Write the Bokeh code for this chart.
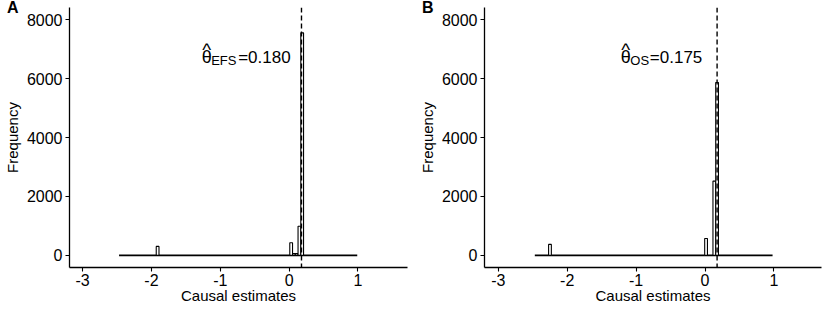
from bokeh.plotting import figure
from bokeh.layouts import row, column
from bokeh.models import Range1d, Span, Label, FixedTicker, Div
from bokeh.embed import file_html
from bokeh.resources import INLINE

# ---- data ----
BIN_W = 0.04
# Panel A (EFS)
a_left = [-1.93, 0.01, 0.05, 0.09, 0.13, 0.17]
a_count = [305, 430, 60, 60, 990, 7550]
a_extent = [-2.47, 0.99]
a_theta = 0.180
a_sub = "EFS"
a_value = "=0.180"
# Panel B (OS)
b_left = [-2.27, -0.005, 0.115, 0.155]
b_count = [373, 576, 2519, 5864]
b_extent = [-2.47, 0.98]
b_theta = 0.175
b_sub = "OS"
b_value = "=0.175"

x_ticks = [-3, -2, -1, 0, 1]
y_ticks = [0, 2000, 4000, 6000, 8000]

FONT = "Liberation Sans"
XR_A = (-3.19, 1.72)
XR_B = (-3.2, 1.69)
YR = (-410, 8410)
FIG_W = 415
FIG_H = 314


def panel(lefts, counts, extent, theta, sub, valtxt, xr, border_left, border_right,
          lab_x, sub_dx, val_dx):
    p = figure(width=FIG_W, height=FIG_H, x_range=Range1d(*xr), y_range=Range1d(*YR),
               output_backend="svg", toolbar_location=None,
               min_border_left=border_left, min_border_right=border_right,
               min_border_top=7, min_border_bottom=47)
    p.outline_line_color = None
    p.xgrid.visible = False
    p.ygrid.visible = False
    p.background_fill_color = "white"
    p.border_fill_color = None

    for ax in (p.xaxis[0], p.yaxis[0]):
        ax.axis_line_color = "black"
        ax.axis_line_width = 1.3
        ax.major_tick_line_color = "black"
        ax.major_tick_line_width = 1.1
        ax.major_tick_out = 4
        ax.major_tick_in = 0
        ax.minor_tick_line_color = None
        ax.major_label_text_font = FONT
        ax.major_label_text_font_size = "16px"
        ax.major_label_text_color = "black"
        ax.axis_label_text_font = FONT
        ax.axis_label_text_font_size = "15px"
        ax.axis_label_text_font_style = "normal"
        ax.axis_label_text_color = "black"
    p.xaxis.major_label_standoff = 2
    p.xaxis.axis_label_standoff = -2
    p.yaxis.major_label_standoff = 3
    p.yaxis.axis_label_standoff = 3

    p.xaxis.ticker = FixedTicker(ticks=x_ticks)
    p.xaxis.major_label_overrides = {t: str(t) for t in x_ticks}
    p.yaxis.ticker = FixedTicker(ticks=y_ticks)
    p.xaxis.axis_label = "Causal estimates"
    p.yaxis.axis_label = "Frequency"

    # zero-count bins appear as a flat line
    p.segment(x0=[extent[0]], y0=[0], x1=[extent[1]], y1=[0], line_color="black", line_width=1.6)
    rights = [l + BIN_W for l in lefts]
    p.quad(left=lefts, right=rights, bottom=[0] * len(lefts), top=counts,
           fill_color="white", line_color="black", line_width=1.1)

    p.add_layout(Span(location=theta, dimension="height", line_color="black",
                      line_width=1.4, line_dash="5 3"))

    # annotation: theta-hat_sub = value
    ly = 6730
    p.add_layout(Label(x=lab_x, y=ly, text="θ", text_font=FONT, text_font_size="18px",
                       text_color="black", text_baseline="alphabetic", text_align="left"))
    p.add_layout(Label(x=lab_x, y=ly, x_offset=5, y_offset=8, text="^", text_font=FONT,
                       text_font_size="19px", text_color="black", text_baseline="alphabetic",
                       text_align="center"))
    p.add_layout(Label(x=lab_x, y=ly, x_offset=sub_dx, y_offset=-3, text=sub, text_font=FONT,
                       text_font_size="13px", text_color="black", text_baseline="alphabetic",
                       text_align="left"))
    p.add_layout(Label(x=lab_x, y=ly, x_offset=val_dx, text=valtxt, text_font=FONT,
                       text_font_size="17px", text_color="black", text_baseline="alphabetic",
                       text_align="left"))
    return p


def tag(text, left):
    return Div(text=text, width=20, height=20, margin=(-FIG_H, 0, FIG_H - 20, left),
               styles={"font-family": FONT, "font-size": "16px", "font-weight": "bold",
                       "line-height": "1", "color": "black", "position": "relative",
                       "z-index": "10"})


pA = panel(a_left, a_count, a_extent, a_theta, a_sub, a_value, XR_A, 66, 8,
           -1.27, 9.5, 36.5)
pB = panel(b_left, b_count, b_extent, b_theta, b_sub, b_value, XR_B, 65, 9,
           -1.222, 9.5, 29)

layout = row(column(pA, tag("A", 7)), column(pB, tag("B", 7)))
open("out.html", "w").write(file_html(layout, INLINE))
